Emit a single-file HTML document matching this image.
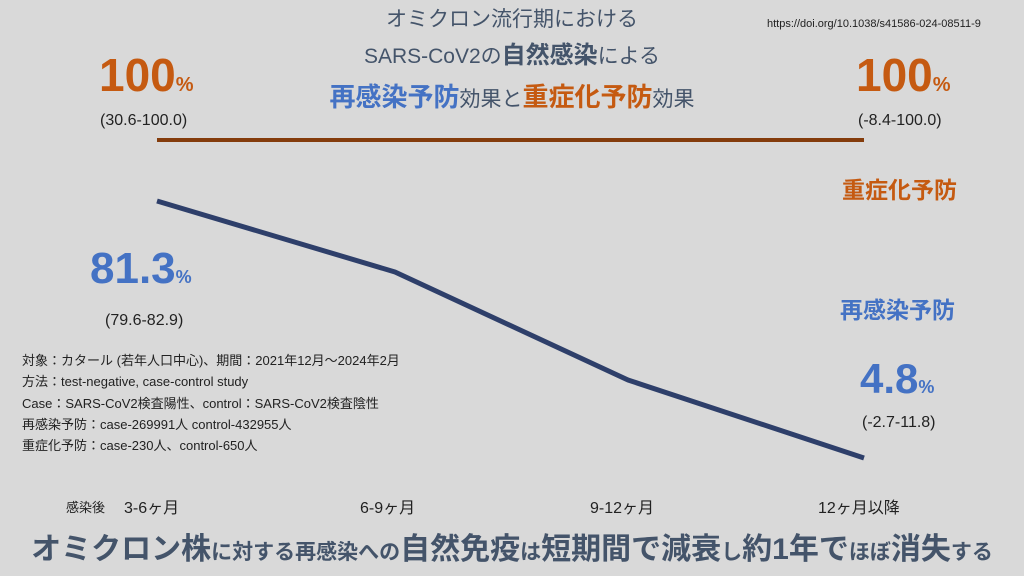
<!DOCTYPE html>
<html><head><meta charset="utf-8"><style>
body{margin:0;width:1024px;height:576px;background:#d9d9d9;position:relative;overflow:hidden;font-family:"Liberation Sans","Noto Sans CJK JP",sans-serif;color:#44546a}
.a{position:absolute;white-space:nowrap}
.b{font-weight:bold}
.blue{color:#4472c4}.or{color:#c55a11}
.k{color:#222}
</style></head><body>
<svg class="a" style="left:0;top:0" width="1024" height="576">
<line x1="157" y1="140" x2="864" y2="140" stroke="#843c0c" stroke-width="4"/>
<polyline points="157,201 395,272 628,380 864,458" fill="none" stroke="#2e3f6a" stroke-width="5" stroke-linejoin="round"/>
</svg>
<div class="a" style="left:0;width:1024px;top:5px;text-align:center;font-size:21px;line-height:30px">オミクロン流行期における</div>
<div class="a" style="left:0;width:1024px;top:41px;text-align:center;font-size:21px;line-height:30px">SARS-CoV2の<span class="b" style="font-size:24px">自然感染</span>による</div>
<div class="a" style="left:0;width:1024px;top:80px;text-align:center;font-size:21px;line-height:34px"><span class="b blue" style="font-size:26px">再感染予防</span>効果と<span class="b or" style="font-size:26px">重症化予防</span>効果</div>
<div class="a k" style="left:767px;top:18px;font-size:11px">https://doi.org/10.1038/s41586-024-08511-9</div>
<div class="a b or" style="left:99px;top:48px;font-size:46px">100<span style="font-size:20px">%</span></div>
<div class="a k" style="left:100px;top:112px;font-size:16px">(30.6-100.0)</div>
<div class="a b or" style="left:856px;top:48px;font-size:46px">100<span style="font-size:20px">%</span></div>
<div class="a k" style="left:858px;top:112px;font-size:16px">(-8.4-100.0)</div>
<div class="a b or" style="left:842px;top:171px;font-size:23px">重症化予防</div>
<div class="a b blue" style="left:840px;top:291px;font-size:23px">再感染予防</div>
<div class="a b blue" style="left:90px;top:244px;font-size:44px">81.3<span style="font-size:18px">%</span></div>
<div class="a k" style="left:105px;top:312px;font-size:16px">(79.6-82.9)</div>
<div class="a b blue" style="left:860px;top:355px;font-size:42px">4.8<span style="font-size:18px">%</span></div>
<div class="a k" style="left:862px;top:414px;font-size:16px">(-2.7-11.8)</div>
<div class="a k" style="left:22px;top:350px;font-size:13px;line-height:21.3px">対象：カタール (若年人口中心)、期間：2021年12月～2024年2月<br>方法：test-negative, case-control study<br>Case：SARS-CoV2検査陽性、control：SARS-CoV2検査陰性<br>再感染予防：case-269991人 control-432955人<br>重症化予防：case-230人、control-650人</div>
<div class="a k" style="left:66px;top:497px;font-size:13px">感染後</div>
<div class="a k" style="left:124px;top:494px;font-size:16px">3-6ヶ月</div>
<div class="a k" style="left:360px;top:494px;font-size:16px">6-9ヶ月</div>
<div class="a k" style="left:590px;top:494px;font-size:16px">9-12ヶ月</div>
<div class="a k" style="left:818px;top:494px;font-size:16px">12ヶ月以降</div>
<div class="a b" style="left:0;width:1024px;top:529px;text-align:center;font-size:30px;line-height:42px;color:#44546a">オミクロン株<span style="font-size:21px">に対する再感染への</span>自然免疫<span style="font-size:21px">は</span>短期間で減衰<span style="font-size:21px">し</span>約1年で<span style="font-size:21px">ほぼ</span>消失<span style="font-size:21px">する</span></div>
</body></html>
